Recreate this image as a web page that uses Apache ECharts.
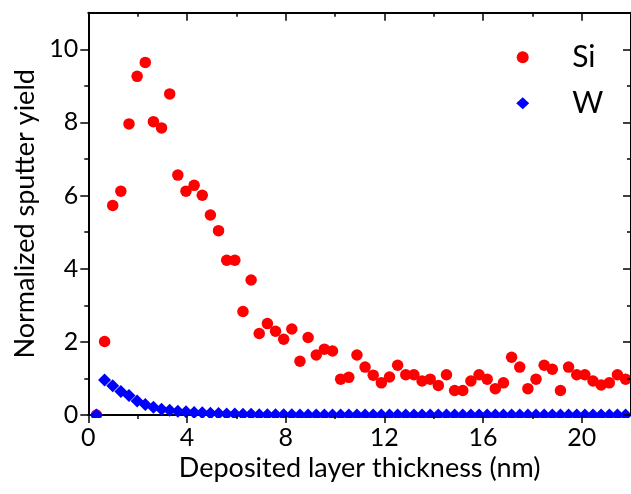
<!DOCTYPE html>
<html>
<head>
<meta charset="utf-8">
<script src="https://cdn.jsdelivr.net/npm/echarts@6/dist/echarts.min.js"></script>
<style>
html, body { margin: 0; padding: 0; background: #fff; }
#chart { width: 631px; height: 494px; }
</style>
</head>
<body>
<div id="chart"></div>
<script>
// thickness (nm) of the deposited layer
var thickness = [0.33, 0.66, 0.99, 1.32, 1.65, 1.98, 2.31, 2.64, 2.97, 3.3, 3.63, 3.96, 4.29, 4.62, 4.95, 5.28, 5.61, 5.94, 6.27, 6.6,
    6.93, 7.26, 7.59, 7.92, 8.25, 8.58, 8.91, 9.24, 9.57, 9.9, 10.23, 10.56, 10.89, 11.22, 11.55, 11.88, 12.21, 12.54, 12.87, 13.2,
    13.53, 13.86, 14.19, 14.52, 14.85, 15.18, 15.51, 15.84, 16.17, 16.5, 16.83, 17.16, 17.49, 17.82, 18.15, 18.48, 18.81, 19.14, 19.47, 19.8,
    20.13, 20.46, 20.79, 21.12, 21.45, 21.78];
var siYield = [0, 2.01, 5.73, 6.12, 7.96, 9.26, 9.64, 8.02, 7.85, 8.78, 6.56, 6.12, 6.28, 6.01, 5.47, 5.04, 4.23, 4.23, 2.83, 3.69,
    2.23, 2.50, 2.29, 2.07, 2.35, 1.47, 2.12, 1.64, 1.80, 1.75, 0.98, 1.03, 1.64, 1.31, 1.09, 0.88, 1.04, 1.36, 1.10, 1.10,
    0.93, 0.98, 0.81, 1.10, 0.67, 0.67, 0.93, 1.10, 0.98, 0.72, 0.88, 1.58, 1.31, 0.72, 0.98, 1.36, 1.25, 0.67, 1.31, 1.10,
    1.10, 0.93, 0.82, 0.88, 1.10, 0.98];
var wYield = [0, 0.96, 0.80, 0.64, 0.53, 0.38, 0.29, 0.21, 0.16, 0.13, 0.10, 0.09, 0.07, 0.06, 0.05, 0.04, 0.03, 0.03, 0.02, 0.02,
    0.01, 0.01, 0.01, 0.01, 0.01, 0, 0, 0, 0, 0, 0, 0, 0, 0, 0, 0, 0, 0, 0, 0,
    0, 0, 0, 0, 0, 0, 0, 0, 0, 0, 0, 0, 0, 0, 0, 0, 0, 0, 0, 0,
    0, 0, 0, 0, 0, 0];
var xMajor = [0, 4, 8, 12, 16, 20];
var xMinor = [2, 6, 10, 14, 18];
var yMajor = [0, 2, 4, 6, 8, 10];
var yMinor = [1, 3, 5, 7, 9];

var font = 'Lato';

function pairs(xs, ys) {
    var out = [];
    for (var i = 0; i < xs.length; i++) out.push([xs[i], ys[i]]);
    return out;
}

function line(show) {
    return { show: show, onZero: false, lineStyle: { color: '#000', width: 2 } };
}

// one axis = one set of ticks (major or minor), so the lengths can differ
function xAx(pos, ticks, len, opt) {
    var a = {
        type: 'value', position: pos, min: 0, max: 22, interval: 2,
        splitLine: { show: false },
        axisLine: line(false),
        axisTick: { show: ticks.length > 0, customValues: ticks, length: len, inside: pos === 'top', lineStyle: { color: '#000', width: 1.5 } },
        axisLabel: { show: false }
    };
    return Object.assign(a, opt || {});
}
function yAx(pos, ticks, len, opt) {
    var a = {
        type: 'value', position: pos, min: 0, max: 11, interval: 1,
        splitLine: { show: false },
        axisLine: line(false),
        axisTick: { show: true, customValues: ticks, length: len, inside: pos === 'right', lineStyle: { color: '#000', width: 1.5 } },
        axisLabel: { show: false }
    };
    return Object.assign(a, opt || {});
}

var myChart = echarts.init(document.getElementById('chart'));
var option = {
    backgroundColor: '#fff',
    animation: false,
    grid: { left: 88.3, right: -3.6, top: 12.7, bottom: 79 },
    legend: {
        orient: 'vertical',
        left: 516.2, top: 42.3,
        padding: 0,
        itemWidth: 13, itemHeight: 12, itemGap: 16,
        textStyle: { fontFamily: font, fontSize: 30, lineHeight: 30, color: '#000', padding: [0, 0, 0, 38] },
        data: ['Si', 'W']
    },
    xAxis: [
        // bottom line, drawn under the markers
        xAx('bottom', [], 0, { z: 0, axisLine: line(true) }),
        xAx('bottom', xMajor, 8, {
            z: 10,
            axisLabel: { show: true, customValues: xMajor, margin: 10, fontFamily: font, fontSize: 25, color: '#000' },
            name: 'Deposited layer thickness (nm)',
            nameLocation: 'middle', nameGap: 38,
            nameTextStyle: { fontFamily: font, fontSize: 27, color: '#000' }
        }),
        xAx('bottom', xMinor, 4, { z: 10 }),
        xAx('top', xMajor, 8, { z: 10, axisLine: line(true) }),
        xAx('top', xMinor, 4, { z: 10 })
    ],
    yAxis: [
        yAx('left', yMajor, 8, {
            z: 10,
            axisLine: line(true),
            axisLabel: { show: true, customValues: yMajor, margin: 10, fontFamily: font, fontSize: 25, color: '#000' },
            name: 'Normalized sputter yield',
            nameLocation: 'middle', nameGap: 46,
            nameTextStyle: { fontFamily: font, fontSize: 27, color: '#000' }
        }),
        yAx('left', yMinor, 4, { z: 10 }),
        yAx('right', yMajor, 8, { z: 10, axisLine: line(true) }),
        yAx('right', yMinor, 4, { z: 10 })
    ],
    // white band below the x axis so the markers sitting on y = 0 are cut off
    graphic: [{
        type: 'rect', z: 5, silent: true,
        shape: { x: 0, y: 418, width: 631, height: 80 },
        style: { fill: '#fff' }
    }],
    series: [
        {
            name: 'Si', type: 'scatter', xAxisIndex: 0, yAxisIndex: 0, clip: false,
            symbol: 'circle', symbolSize: 11.5,
            itemStyle: { color: '#ff0000', opacity: 1 },
            data: pairs(thickness, siYield)
        },
        {
            name: 'W', type: 'scatter', xAxisIndex: 0, yAxisIndex: 0, clip: false,
            symbol: 'diamond', symbolSize: 13,
            itemStyle: { color: '#0000ff', opacity: 1 },
            data: pairs(thickness, wYield)
        }
    ]
};
myChart.setOption(option);
</script>
</body>
</html>
